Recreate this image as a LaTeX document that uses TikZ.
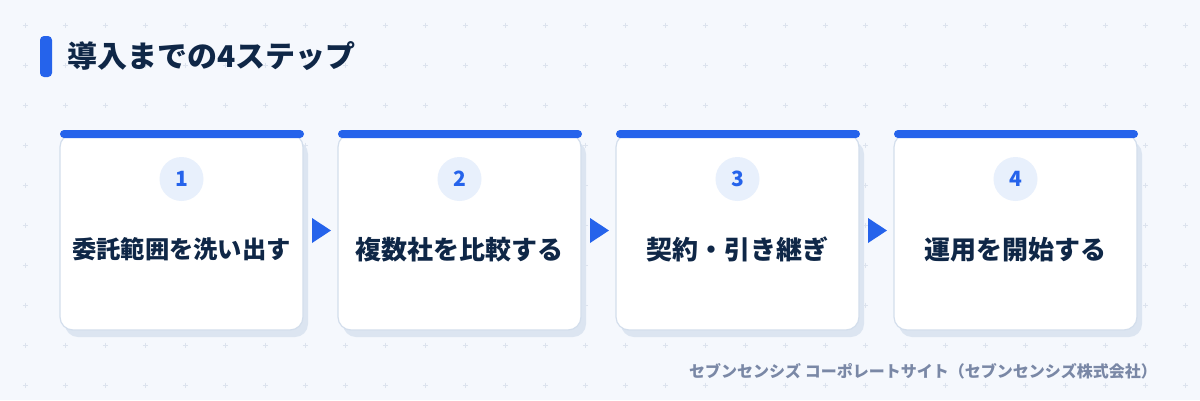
\documentclass[tikz,border=0pt]{standalone}
\usepackage{fontspec}
\setmainfont{Noto Sans CJK JP}
\usetikzlibrary{shapes.geometric}
\definecolor{bg}{HTML}{F5F8FD}
\definecolor{dotc}{HTML}{DCE3EE}
\definecolor{blue}{HTML}{2563EB}
\definecolor{navy}{HTML}{0F2747}
\definecolor{cardline}{HTML}{D3DEEC}
\definecolor{shadowc}{HTML}{DCE5F1}
\definecolor{circc}{HTML}{E8F0FC}
\definecolor{footc}{HTML}{7A88A6}
\tikzset{
  cardbox/.style={draw=cardline, line width=1.2pt, fill=white, rounded corners=13pt},
  shadowbox/.style={fill=shadowc, rounded corners=13pt},
  topbar/.style={fill=blue, rounded corners=4pt},
  numcirc/.style={circle, fill=circc, minimum size=44pt, inner sep=0pt, text=blue, font=\bfseries\fontsize{21}{25}\selectfont},
  steptext/.style={text=navy, inner sep=0pt},
  arrowtri/.style={fill=blue},
}
\begin{document}
\begin{tikzpicture}[x=1pt,y=-1pt]
\fill[bg] (0,0) rectangle (1200,400);
\useasboundingbox (0,0) rectangle (1200,400);
% plus grid
\foreach \i in {0,...,29} {
  \foreach \j in {0,...,9} {
    \draw[dotc, line width=0.8pt] ({25+40*\i-2.5},{25+40*\j}) -- ({25+40*\i+2.5},{25+40*\j})
      ({25+40*\i},{25+40*\j-2.5}) -- ({25+40*\i},{25+40*\j+2.5});
  }
}
% title
\fill[blue, rounded corners=4pt] (40,36) rectangle (52,77);
\node[anchor=west, text=navy, font=\bfseries\fontsize{30}{36}\selectfont, inner sep=0pt] (title) at (67,56) {導入までの4ステップ};
% cards
\foreach \k/\n/\s/\t in {0/1/24.3/委託範囲を洗い出す, 1/2/26/複数社を比較する, 2/3/26/契約・引き継ぎ, 3/4/26/運用を開始する} {
  \pgfmathsetmacro{\L}{60+278*\k}
  \pgfmathsetmacro{\R}{\L+243}
  \pgfmathsetmacro{\C}{\L+121.5}
  \fill[shadowbox] ({\L+5},{134+7}) rectangle ({\R+5},{330+7});
  \draw[cardbox] (\L,134) rectangle (\R,330);
  \fill[topbar] (\L,130) rectangle ({\R+1},138);
  \node[numcirc] (n\n) at (\C,179) {\n};
  \node[steptext, font=\bfseries\fontsize{\s}{30}\selectfont] (s\n) at (\C,249.5) {\t};
}
% arrows
\foreach \k in {0,1,2} {
  \pgfmathsetmacro{\A}{312+278*\k}
  \fill[arrowtri] (\A,218) -- ({\A+19},230.5) -- (\A,243) -- cycle;
}
% footer
\node[anchor=east, text=footc, font=\bfseries\fontsize{16}{19}\selectfont, inner sep=0pt] (foot) at (1157,371) {セブンセンシズ コーポレートサイト（セブンセンシズ株式会社）};
\end{tikzpicture}
\end{document}
